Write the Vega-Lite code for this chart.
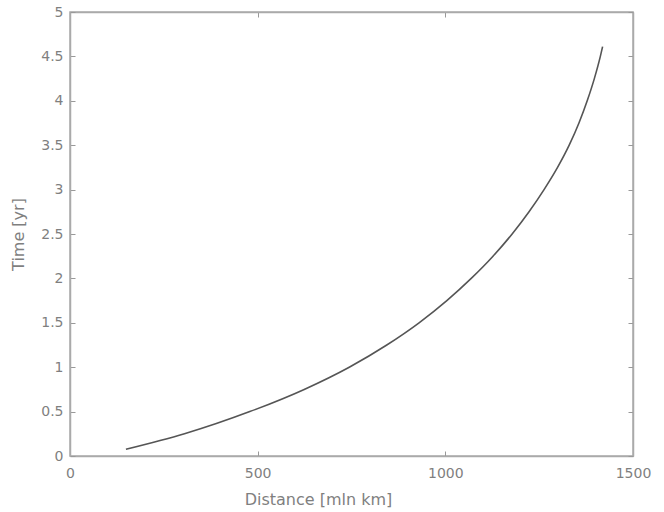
{
  "$schema": "https://vega.github.io/schema/vega-lite/v6.json",
  "width": 563,
  "height": 444,
  "autosize": "none",
  "padding": {"left": 70, "top": 12, "right": 31, "bottom": 56},
  "background": "white",
  "config": {
    "view": {"stroke": "#aaaaaa", "strokeWidth": 1.5},
    "font": "DejaVu Sans",
    "axis": {
      "grid": false,
      "domainColor": "#aaaaaa",
      "domainWidth": 1.5,
      "tickColor": "#999999",
      "tickSize": -5,
      "labelColor": "#7f7f7f",
      "labelFontSize": 14,
      "labelFont": "DejaVu Sans",
      "labelFlush": false,
      "labelOverlap": false,
      "titleColor": "#7f7f7f",
      "titleFont": "DejaVu Sans",
      "titleFontWeight": "normal"
    }
  },
  "data": {
    "values": [
      {"distance": 149, "time": 0.075},
      {"distance": 305, "time": 0.25},
      {"distance": 479, "time": 0.5},
      {"distance": 624, "time": 0.75},
      {"distance": 744, "time": 1.0},
      {"distance": 844, "time": 1.25},
      {"distance": 930, "time": 1.5},
      {"distance": 1004, "time": 1.75},
      {"distance": 1069, "time": 2.0},
      {"distance": 1127, "time": 2.25},
      {"distance": 1178, "time": 2.5},
      {"distance": 1223, "time": 2.75},
      {"distance": 1263, "time": 3.0},
      {"distance": 1299, "time": 3.25},
      {"distance": 1330, "time": 3.5},
      {"distance": 1356, "time": 3.75},
      {"distance": 1378, "time": 4.0},
      {"distance": 1397, "time": 4.25},
      {"distance": 1413, "time": 4.5},
      {"distance": 1419, "time": 4.61}
    ]
  },
  "layer": [
    {
      "mark": {"type": "line", "color": "#555555", "strokeWidth": 1.6, "interpolate": "monotone"},
      "encoding": {
        "x": {
          "field": "distance", "type": "quantitative",
          "scale": {"domain": [0, 1500], "nice": false, "zero": false},
          "axis": {"orient": "bottom", "values": [0, 500, 1000, 1500], "format": "d", "title": "Distance [mln km]", "titleFontSize": 16, "labelPadding": 15, "titlePadding": 11, "titleX": 248, "titleAnchor": "middle", "titleAlign": "center"}
        },
        "y": {
          "field": "time", "type": "quantitative",
          "scale": {"domain": [0, 5], "nice": false, "zero": false},
          "axis": {"orient": "left", "values": [0, 0.5, 1, 1.5, 2, 2.5, 3, 3.5, 4, 4.5, 5], "format": "~g", "title": "Time [yr]", "titleFontSize": 16, "labelPadding": 12, "titlePadding": 14}
        }
      }
    },
    {
      "mark": {"type": "line", "opacity": 0},
      "encoding": {
        "x": {
          "field": "distance", "type": "quantitative",
          "axis": {"orient": "top", "values": [0, 500, 1000, 1500], "labels": false, "title": null}
        },
        "y": {
          "field": "time", "type": "quantitative",
          "axis": {"orient": "right", "values": [0, 0.5, 1, 1.5, 2, 2.5, 3, 3.5, 4, 4.5, 5], "labels": false, "title": null}
        }
      }
    }
  ],
  "resolve": {"axis": {"x": "independent", "y": "independent"}}
}
